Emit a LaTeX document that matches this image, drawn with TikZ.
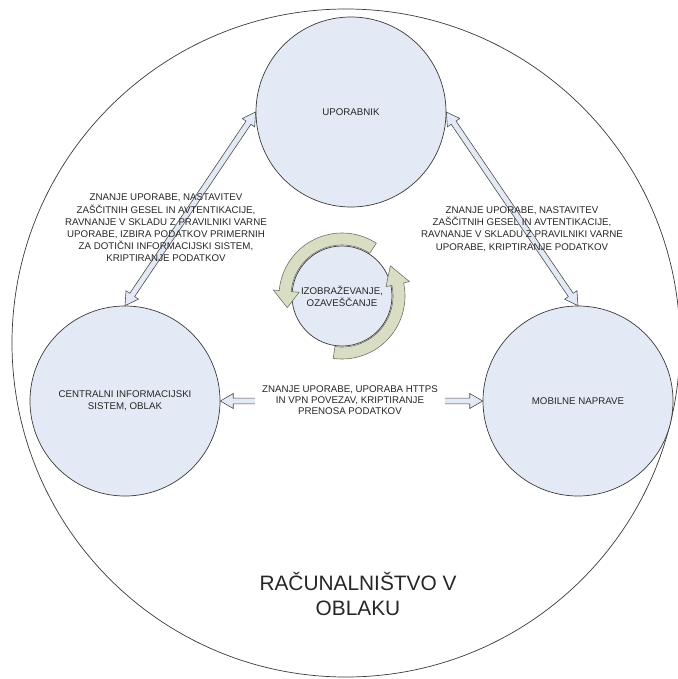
\documentclass[tikz,border=0pt]{standalone}
\usepackage{fontspec}
\setmainfont{Liberation Sans}
\usepackage{tikz}
\usetikzlibrary{calc}
\definecolor{circfill}{HTML}{E4EAF5}
\definecolor{circline}{HTML}{3A3A3A}
\definecolor{bandfill}{HTML}{D8DDC4}
\definecolor{bandline}{HTML}{6E7262}
\definecolor{arrowline}{HTML}{4A4A4A}
\definecolor{textgray}{HTML}{262626}
\newcommand{\arrhl}{11pt}
\newcommand{\arrhw}{6.4pt}
\newcommand{\arrsw}{2.5pt}
\tikzset{
    bigcircle/.style={shape=circle, draw=circline, fill=circfill, line width=0.6pt,
        minimum size=5.7cm, inner sep=0pt, align=center, text=textgray,
        font=\fontsize{8.3}{10}\selectfont},
    bandarrow/.style={draw=bandline, fill=bandfill, line width=0.5pt, line join=miter},
    note/.style={align=center, inner sep=0pt, text=textgray,
        font=\fontsize{8.3}{10.4}\selectfont},
    blockarrow/.style={draw=arrowline, fill=circfill, line width=0.5pt, line join=miter,
        to path={
            -- ($(\tikztostart)!\arrhl!(\tikztotarget)!\arrhw!90:(\tikztotarget)$)
            -- ($(\tikztostart)!\arrhl!(\tikztotarget)!\arrsw!90:(\tikztotarget)$)
            -- ($(\tikztotarget)!\arrhl!(\tikztostart)!\arrsw!-90:(\tikztostart)$)
            -- ($(\tikztotarget)!\arrhl!(\tikztostart)!\arrhw!-90:(\tikztostart)$)
            -- (\tikztotarget)
            -- ($(\tikztotarget)!\arrhl!(\tikztostart)!\arrhw!90:(\tikztostart)$)
            -- ($(\tikztotarget)!\arrhl!(\tikztostart)!\arrsw!90:(\tikztostart)$)
            -- ($(\tikztostart)!\arrhl!(\tikztotarget)!\arrsw!-90:(\tikztotarget)$)
            -- ($(\tikztostart)!\arrhl!(\tikztotarget)!\arrhw!-90:(\tikztotarget)$)
            -- cycle}}
}
\begin{document}
\begin{tikzpicture}[x=0.03cm, y=-0.03cm]
    \useasboundingbox (0,0) rectangle (677,679);
    \draw[circline, line width=0.6pt] (346,343) circle[radius=334];

    \node[bigcircle] (U) at (351,112) {UPORABNIK};
    \node[bigcircle] (S) at (125,401) {CENTRALNI INFORMACIJSKI\\SISTEM, OBLAK};
    \node[bigcircle] (M) at (578,401) {MOBILNE NAPRAVE};
    \node[bigcircle, minimum size=3cm] (E) at (342,296) {IZOBRAŽEVANJE,\\OZAVEŠČANJE};

    \begin{scope}[shift={(342,296)}]
        \draw[bandarrow] plot[domain=-57:-175, samples=40] (\x:63) -- (-175:69) -- (-192:56)
            -- (-175:43) -- plot[domain=-175:-57, samples=40] (\x:51) -- cycle;
        \draw[bandarrow] plot[domain=98:-12, samples=40] (\x:63) -- (-12:69) -- (-32:57)
            -- (-12:45) -- plot[domain=-12:98, samples=40] (\x:51) -- cycle;
    \end{scope}

    \draw[blockarrow] (U.180) to (S.90);
    \draw[blockarrow] (U.0) to (M.90);
    \draw[blockarrow] (S.0) to (M.180);

    \node[note] (L1) at (166,228) {ZNANJE UPORABE, NASTAVITEV\\ZAŠČITNIH GESEL IN AVTENTIKACIJE,\\RAVNANJE V SKLADU Z PRAVILNIKI VARNE\\UPORABE, IZBIRA PODATKOV PRIMERNIH\\ZA DOTIČNI INFORMACIJSKI SISTEM,\\KRIPTIRANJE PODATKOV};
    \node[note] (L2) at (522,229) {ZNANJE UPORABE, NASTAVITEV\\ZAŠČITNIH GESEL IN AVTENTIKACIJE,\\RAVNANJE V SKLADU Z PRAVILNIKI VARNE\\UPORABE, KRIPTIRANJE PODATKOV};
    \node[note, fill=white, inner xsep=6pt, inner ysep=2pt, font=\fontsize{8.3}{9.4}\selectfont] (L3) at (350,400) {ZNANJE UPORABE, UPORABA HTTPS\\IN VPN POVEZAV, KRIPTIRANJE\\PRENOSA PODATKOV};
    \node[align=center, inner sep=0pt, text=textgray, font=\fontsize{17.8}{21.3}\selectfont] (T) at (358,594) {RAČUNALNIŠTVO V\\OBLAKU};
\end{tikzpicture}
\end{document}
